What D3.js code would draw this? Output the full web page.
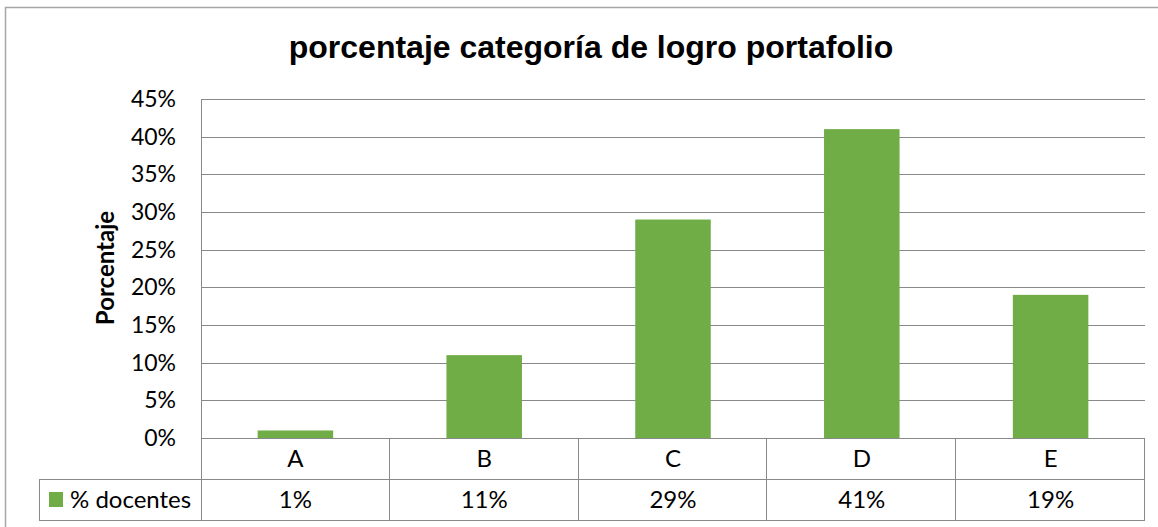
<!DOCTYPE html>
<meta charset="utf-8">
<script src="https://d3js.org/d3.v7.min.js"></script>
<style>
  body { margin: 0; background: #fff; }
  text { font-family: Lato, "Open Sans", sans-serif; }
</style>
<body>
<div id="canvas"></div>
<script>

var categorias = ["A", "B", "C", "D", "E"];
var docentes = [0.01, 0.11, 0.29, 0.41, 0.19];
var ticksY = [0, 0.05, 0.10, 0.15, 0.20, 0.25, 0.30, 0.35, 0.40, 0.45];
var serie = "% docentes";

var width = 1158, height = 527;
var izq = 201, der = 1145, arriba = 99, abajo = 438;
var fila = 41; // alto de cada fila de la tabla
var verde = "#70ad47", gris = "#898989";

var svg = d3.select("#canvas").append("svg")
  .attr("width", width)
  .attr("height", height);

// marco del grafico
svg.append("rect")
  .attr("x", 5.5).attr("y", 7.5)
  .attr("width", width + 10).attr("height", height + 10)
  .attr("fill", "none").attr("stroke", "#a6a6a6").attr("stroke-width", 1.5);

svg.append("text")
  .attr("x", 591).attr("y", 58)
  .attr("text-anchor", "middle")
  .style("font-family", "'Liberation Sans', Arial, sans-serif")
  .style("font-weight", "bold").style("font-size", "32px")
  .text("porcentaje categoría de logro portafolio");

var x = d3.scaleBand().domain(categorias).range([izq, der]).paddingInner(0.6).paddingOuter(0.3);
var bandas = d3.scaleBand().domain(categorias).range([izq, der]);
var y = d3.scaleLinear().domain([0, 0.45]).range([abajo, arriba]);

// lineas de cuadricula
svg.append("g").selectAll("line")
  .data(ticksY).enter().append("line")
  .attr("x1", izq).attr("x2", der)
  .attr("y1", function(d){ return Math.round(y(d)) + 0.5; })
  .attr("y2", function(d){ return Math.round(y(d)) + 0.5; })
  .attr("stroke", gris).attr("stroke-width", 1);

// eje y
var ejeY = svg.append("g")
  .attr("transform", "translate(" + izq + ",0)")
  .call(d3.axisLeft(y).tickValues(ticksY).tickFormat(d3.format(".0%")).tickSize(0).tickPadding(25));
ejeY.select(".domain").remove();
ejeY.selectAll("text").style("font-size", "23px").attr("fill", "#000");

svg.append("text")
  .attr("transform", "translate(114,268) rotate(-90)")
  .attr("text-anchor", "middle")
  .style("font-weight", "bold").style("font-size", "24px")
  .text("Porcentaje");

// barras
svg.selectAll(".barra")
  .data(docentes).enter().append("rect")
  .attr("class", "barra")
  .attr("x", function(d, i){ return x(categorias[i]); })
  .attr("width", x.bandwidth())
  .attr("y", function(d){ return y(d); })
  .attr("height", function(d){ return abajo - y(d); })
  .attr("fill", verde);

// tabla de datos
var tabla = svg.append("g").attr("stroke", gris).attr("fill", "none");
tabla.append("line").attr("x1", izq + 0.5).attr("x2", izq + 0.5).attr("y1", arriba).attr("y2", abajo + 2 * fila);
tabla.append("line").attr("x1", 39).attr("x2", der).attr("y1", abajo + fila + 0.5).attr("y2", abajo + fila + 0.5);
tabla.append("line").attr("x1", 39).attr("x2", der).attr("y1", abajo + 2 * fila + 0.5).attr("y2", abajo + 2 * fila + 0.5);
tabla.append("line").attr("x1", 39.5).attr("x2", 39.5).attr("y1", abajo + fila).attr("y2", abajo + 2 * fila);
tabla.selectAll(".col").data(categorias).enter().append("line")
  .attr("x1", function(d){ return Math.round(bandas(d) + bandas.bandwidth()) - 0.5; })
  .attr("x2", function(d){ return Math.round(bandas(d) + bandas.bandwidth()) - 0.5; })
  .attr("y1", abajo).attr("y2", abajo + 2 * fila);

svg.selectAll(".cat").data(categorias).enter().append("text")
  .attr("x", function(d){ return bandas(d) + bandas.bandwidth() / 2; })
  .attr("y", abajo + 29)
  .attr("text-anchor", "middle").style("font-size", "24px")
  .text(function(d){ return d; });

svg.selectAll(".val").data(docentes).enter().append("text")
  .attr("x", function(d, i){ return bandas(categorias[i]) + bandas.bandwidth() / 2; })
  .attr("y", abajo + fila + 29)
  .attr("text-anchor", "middle").style("font-size", "24px")
  .text(function(d){ return d3.format(".0%")(d); });

svg.append("rect").attr("x", 49).attr("y", abajo + fila + 13).attr("width", 14).attr("height", 15).attr("fill", verde);
svg.append("text").attr("x", 70).attr("y", abajo + fila + 29).style("font-size", "24px").text(serie);

</script>
</body>
